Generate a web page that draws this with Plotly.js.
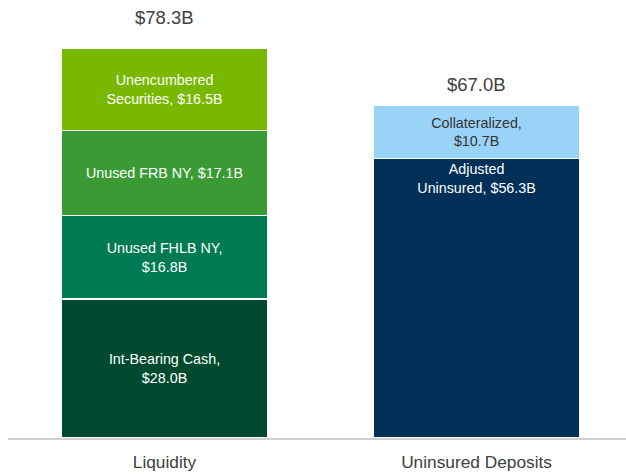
<!DOCTYPE html>
<html>
<head>
<meta charset="utf-8">
<script src="https://cdn.plot.ly/plotly-3.0.1.min.js"></script>
<style>html,body{margin:0;padding:0;background:#fff;}#chart{width:626px;height:474px;}</style>
</head>
<body>
<div id="chart"></div>
<script>
// Data
const categories = ["Liquidity", "Uninsured Deposits"];
const segmentCategory = ["Liquidity", "Liquidity", "Liquidity", "Liquidity", "Uninsured Deposits", "Uninsured Deposits"];
const segmentNames = ["Int-Bearing Cash", "Unused FHLB NY", "Unused FRB NY", "Unencumbered Securities", "Adjusted Uninsured", "Collateralized"];
const segmentLabels = ["Int-Bearing Cash,<br>$28.0B", "Unused FHLB NY,<br>$16.8B", "Unused FRB NY, $17.1B", "Unencumbered<br>Securities, $16.5B", "Adjusted<br>Uninsured, $56.3B", "Collateralized,<br>$10.7B"];
const segmentValues = [28.0, 16.8, 17.1, 16.5, 56.3, 10.7];
const totalLabels = ["$78.3B", "$67.0B"];
const totalValues = [78.3, 67.0];

// Styles
const segmentColors = ["#004B30", "#007A53", "#3A9B35", "#78B800", "#003057", "#99D3F7"];
const segmentTextColors = ["#fff", "#fff", "#fff", "#fff", "#fff", "#333"];
const segmentTextAnchor = ["middle", "middle", "middle", "middle", "end", "middle"];
const totalShift = [19, 8];
const FONT = "Liberation Sans, Arial, sans-serif";

const traces = segmentValues.map((v, i) => ({
  type: "bar",
  x: [segmentCategory[i]],
  y: [v],
  name: segmentNames[i],
  width: 0.663,
  marker: {color: segmentColors[i], line: {color: "#ffffff", width: 1.2}},
  text: [segmentLabels[i]],
  textposition: "inside",
  insidetextanchor: segmentTextAnchor[i],
  textangle: 0,
  constraintext: "none",
  textfont: {family: FONT, size: 14.3, color: segmentTextColors[i]},
  hoverinfo: "skip",
  showlegend: false
}));

const annotations = categories.map((c, i) => ({
  x: c, y: totalValues[i], xref: "x", yref: "y",
  text: totalLabels[i], showarrow: false,
  yanchor: "bottom", yshift: totalShift[i],
  font: {family: FONT, size: 18.5, color: "#404040"}
}));

const layout = {
  width: 626, height: 474,
  margin: {l: 8, r: 0, t: 0, b: 36},
  paper_bgcolor: "#fff", plot_bgcolor: "#fff",
  barmode: "stack",
  bargap: 0,
  xaxis: {
    type: "category", range: [-0.5016, 1.479],
    showgrid: false, zeroline: false,
    showline: true, linecolor: "#d0d0d0", linewidth: 1.5,
    ticks: "", ticklabelstandoff: 8,
    tickfont: {family: FONT, size: 17.3, color: "#404040"}
  },
  yaxis: {
    range: [0, 88.2], visible: false, showgrid: false, zeroline: false, fixedrange: true
  },
  annotations: annotations
};

Plotly.newPlot("chart", traces, layout, {displayModeBar: false, staticPlot: true});
</script>
</body>
</html>
